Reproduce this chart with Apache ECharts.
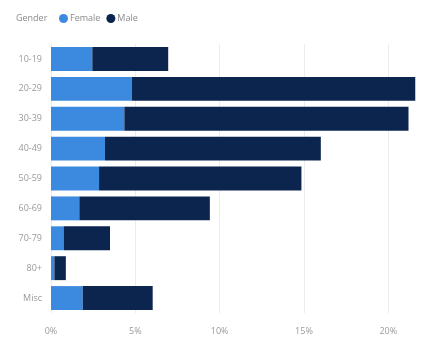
<!DOCTYPE html>
<html>
<head>
<meta charset="utf-8">
<script src="https://cdn.jsdelivr.net/npm/echarts@6/dist/echarts.min.js"></script>
<style>
  html, body { margin: 0; padding: 0; background: #fff; }
  #chart { width: 446px; height: 339px; }
</style>
</head>
<body>
<div id="chart"></div>
<script>
// 年龄段
const ageGroups = ['10-19', '20-29', '30-39', '40-49', '50-59', '60-69', '70-79', '80+', 'Misc'];
// 百分比
const female = [2.45, 4.8, 4.35, 3.2, 2.85, 1.68, 0.75, 0.2, 1.88];
const male = [4.5, 16.8, 16.85, 12.8, 12.0, 7.74, 2.75, 0.68, 4.15];
const xTicks = [0, 5, 10, 15, 20];

const chart = echarts.init(document.getElementById('chart'));

const option = {
  animation: false,
  title: {
    text: 'Gender',
    left: 11,
    top: 9,
    textStyle: { fontSize: 9, fontWeight: 'normal', color: '#8a8a8a', fontFamily: 'Open Sans' }
  },
  legend: {
    left: 54,
    top: 9,
    icon: 'circle',
    itemWidth: 9,
    itemHeight: 9,
    itemGap: 6,
    textStyle: { fontSize: 9, color: '#8a8a8a', fontFamily: 'Open Sans', padding: [0, 0, 0, -3] },
    data: ['Female', 'Male']
  },
  grid: { left: 51, right: 24, top: 44, bottom: 26 },
  xAxis: {
    type: 'value',
    min: xTicks[0],
    max: 22,
    interval: 5,
    axisLine: { show: false },
    axisTick: { show: false },
    axisLabel: {
      showMaxLabel: false,
      fontSize: 9,
      color: '#9a9a9a',
      fontFamily: 'Open Sans',
      margin: 14,
      formatter: v => v + '%'
    },
    splitLine: { show: true, showMaxLine: false, lineStyle: { color: '#ececec' } }
  },
  yAxis: {
    type: 'category',
    inverse: true,
    data: ageGroups,
    axisLine: { show: false },
    axisTick: { show: false },
    axisLabel: { fontSize: 9, color: '#9a9a9a', fontFamily: 'Open Sans', margin: 9 }
  },
  series: [
    {
      name: 'Female',
      type: 'bar',
      stack: 'g',
      barCategoryGap: '20%',
      itemStyle: { color: '#3b8ae0' },
      data: female
    },
    {
      name: 'Male',
      type: 'bar',
      stack: 'g',
      barCategoryGap: '20%',
      itemStyle: { color: '#0b254f' },
      data: male
    }
  ]
};

chart.setOption(option);
</script>
</body>
</html>
